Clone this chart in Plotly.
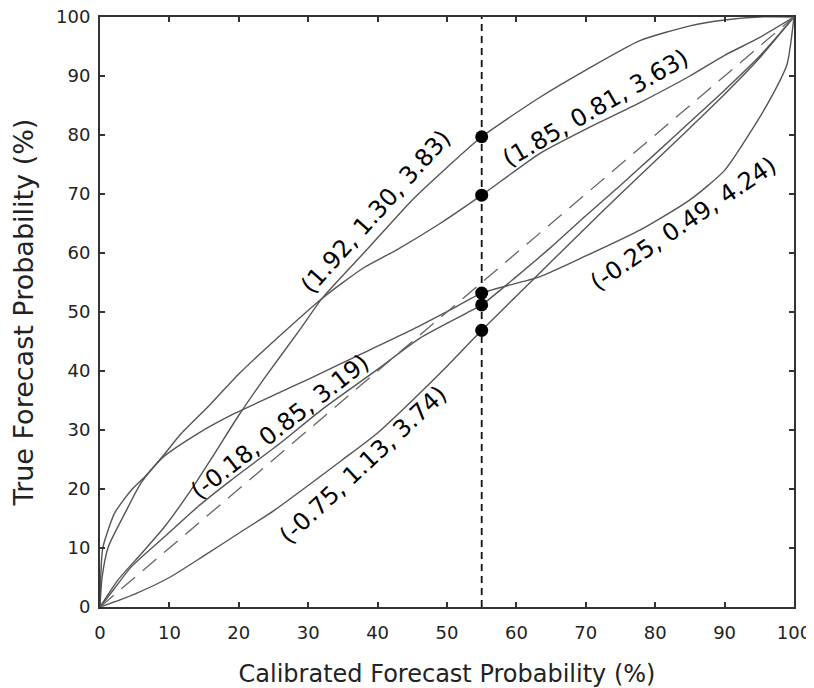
import plotly.graph_objects as go

# ---- data ----
curve_names = ["(1.92, 1.30, 3.83)", "(1.85, 0.81, 3.63)", "(-0.25, 0.49, 4.24)",
               "(-0.18, 0.85, 3.19)", "(-0.75, 1.13, 3.74)"]

a_x = [0, 2.6, 6, 9.3, 13.1, 16.5, 20, 23.7, 28.8, 32, 38.4, 45, 50, 55, 63.4, 70, 77.8, 85, 90, 95, 100]
a_y = [0, 4.6, 9.1, 13.6, 19.8, 26, 32.5, 38.8, 47, 52.3, 60.5, 69, 74.5, 79.7, 86.4, 91, 96, 98.5, 99.5, 100, 100]

b_x = [0, 0.1, 0.4, 2.1, 4.5, 6.4, 8.8, 11.7, 15.6, 20, 25, 32, 38, 42.7, 49, 55, 63.4, 70, 77.8, 85, 90, 95, 100]
b_y = [0, 5, 10, 15.9, 19.8, 22, 25.2, 29.4, 34, 39.5, 45, 52.3, 57.5, 60.5, 65, 69.8, 76.9, 81, 85.5, 90, 93.5, 96.5, 100]

c_x = [0, 0.3, 1.2, 3.6, 5.9, 9, 14.1, 19.4, 25.6, 30, 38.9, 45, 50.4, 55, 63.4, 70, 78, 85, 90, 94, 97, 99, 100]
c_y = [0, 5, 10.2, 15.9, 21, 25.3, 29.4, 32.8, 36.2, 38.6, 43.6, 47, 50.3, 53.2, 56, 59.5, 64, 69, 74, 81, 87, 92, 100]

d_x = [0, 2, 4.5, 9.3, 14.1, 18.9, 25.9, 32, 39.9, 46, 52.8, 55, 60, 65, 70, 75, 80, 85, 90, 95, 100]
d_y = [0, 3, 6.8, 11.9, 17, 21.5, 27.7, 33.5, 40.2, 45.5, 49.8, 51.2, 56, 61, 66.3, 71.5, 76.8, 82.2, 87.6, 93.3, 100]

e_x = [0, 5, 10, 15, 20, 25, 30, 35, 40, 45, 50, 55, 60, 65, 70, 75, 80, 85, 90, 95, 100]
e_y = [0, 2.2, 5, 8.7, 12.5, 16.3, 20.6, 25, 29.5, 35, 40.8, 46.9, 52.7, 58.5, 64.3, 70, 75.6, 81.2, 86.9, 93, 100]

diag = [0, 100]
cut_x = 55
dot_y = [79.7, 69.8, 53.2, 51.2, 46.9]

# label anchor (data coords) and angle
label_x = [39.7, 71.5, 84, 25.9, 37.9]
label_y = [67, 84.5, 65, 30.5, 24.1]
label_angle = [-48, -30, -34, -38, -43]

tick_vals = list(range(0, 101, 10))

# ---- figure ----
fig = go.Figure()
curve_col = "#555555"
for xs, ys in [(a_x, a_y), (b_x, b_y), (c_x, c_y), (d_x, d_y), (e_x, e_y)]:
    fig.add_trace(go.Scatter(x=xs, y=ys, mode="lines",
                             line=dict(color=curve_col, width=1.4, shape="spline", smoothing=0.6),
                             showlegend=False, hoverinfo="skip"))

fig.add_trace(go.Scatter(x=diag, y=diag, mode="lines",
                         line=dict(color="#666666", width=1.3, dash="18px,10px"),
                         showlegend=False))
fig.add_trace(go.Scatter(x=[cut_x, cut_x], y=[0, 100], mode="lines",
                         line=dict(color="#111111", width=1.8, dash="7px,5px"),
                         showlegend=False))
fig.add_trace(go.Scatter(x=[cut_x] * len(dot_y), y=dot_y, mode="markers",
                         marker=dict(color="black", size=13), showlegend=False))

for txt, lx, ly, ang in zip(curve_names, label_x, label_y, label_angle):
    fig.add_annotation(x=lx, y=ly, text=txt, textangle=ang, showarrow=False,
                       xanchor="center", yanchor="middle",
                       font=dict(family="DejaVu Sans", size=24, color="black"))

axis_common = dict(range=[0, 100], tickvals=tick_vals, ticks="inside", ticklen=5,
                   tickwidth=1.5, tickcolor="#333333", showline=True, linewidth=2,
                   linecolor="#333333", mirror="ticks", showgrid=False, zeroline=False,
                   automargin=False, ticklabeloverflow="allow",
                   tickfont=dict(family="DejaVu Sans", size=18, color="#222222"))

fig.update_xaxes(**axis_common, ticklabelstandoff=8,
                 title=dict(text="Calibrated Forecast Probability (%)", standoff=24,
                            font=dict(family="DejaVu Sans", size=24, color="#222222")))
fig.update_yaxes(**axis_common, ticklabelstandoff=4,
                 title=dict(text="True Forecast Probability (%)", standoff=25,
                            font=dict(family="DejaVu Sans", size=27, color="#222222")))

# page body adds an 8px offset; margins compensate so the plot box sits at x 100-794, y 17-607
fig.update_layout(width=814, height=688, plot_bgcolor="white", paper_bgcolor="white",
                  margin=dict(l=92, r=28, t=9, b=89))

fig.write_html("out.html")
